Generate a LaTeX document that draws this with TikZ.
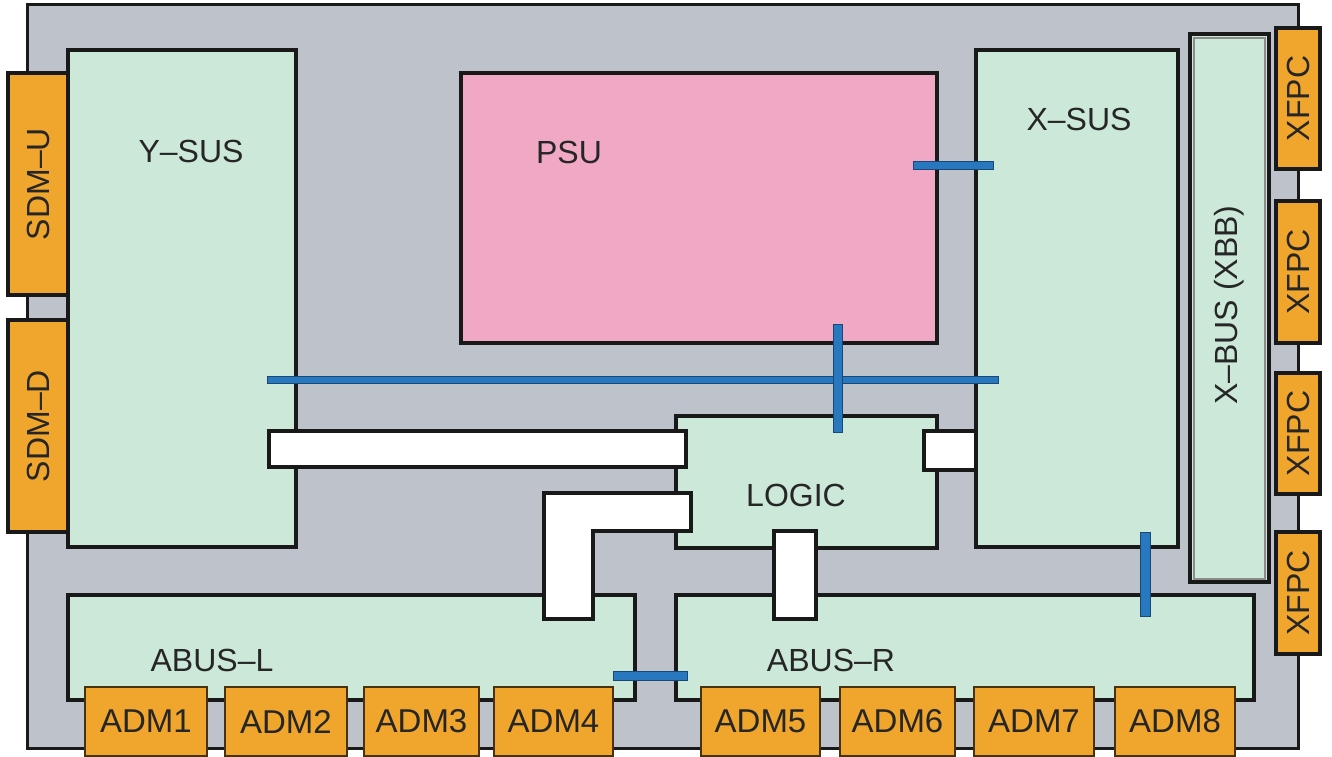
\documentclass[tikz,border=0pt]{standalone}
\usepackage{fontspec}
\setmainfont{Liberation Sans}
\usepackage{xcolor}

\definecolor{boardgray}{HTML}{BEC2CB}
\definecolor{cardgreen}{HTML}{CBE8D8}
\definecolor{psupink}{HTML}{F0A8C5}
\definecolor{plugorange}{HTML}{F0A52D}
\definecolor{busblue}{HTML}{2878C0}

\begin{document}
\begin{tikzpicture}[x=0.5pt, y=-0.5pt,
        wh/.style 2 args={minimum width=(#1)*0.5pt, minimum height=(#2)*0.5pt},
        board/.style={rectangle, draw=black!90, line width=1.5pt, fill=boardgray, inner sep=0pt, outer sep=0pt},
        card/.style={rectangle, draw=black!90, line width=2pt, fill=cardgreen, inner sep=0pt, outer sep=0pt},
        plug/.style={rectangle, draw=black!90, line width=2pt, fill=plugorange, inner sep=0pt, outer sep=0pt},
        adm/.style={rectangle, draw=black!70!plugorange, line width=0.6pt, fill=plugorange, inner sep=0pt, outer sep=0pt, font=\fontsize{16.5}{19}\selectfont, text=black!85},
        link/.style={draw=black!90, line width=2pt, fill=white},
        bus/.style={draw=busblue!60!black, line width=0.4pt, fill=busblue},
        lbl/.style={font=\fontsize{16}{19}\selectfont, text=black!85}
    ]
        \useasboundingbox (0,0) rectangle (1332,756);

        % Board
        \node[board, wh={1271}{744}, anchor=north west] (board) at (27,4) {};

        % Cards
        \node[card, wh={228}{497}, anchor=north west] (ysus) at (68,50) {};
        \node[card, fill=psupink, wh={476}{270}, anchor=north west] (psu) at (461,73) {};
        \node[card, wh={202}{497}, anchor=north west] (xsus) at (976,50) {};
        \node[card, wh={79}{548}, anchor=north west] (xbus) at (1190,34) {};
        \draw[draw=black!45, line width=0.6pt] ([shift={(4,4)}]xbus.north west) rectangle ([shift={(-4,-3)}]xbus.south east);
        \node[card, wh={261}{132}, anchor=north west] (logic) at (676,416) {};
        \node[card, wh={567}{105}, anchor=north west] (abusl) at (68,595) {};
        \node[card, wh={578}{105}, anchor=north west] (abusr) at (676,595) {};

        % White links
        \draw[link] ([shift={(-27,-116)}]ysus.south east) rectangle ([shift={(10,-15)}]logic.west);
        \draw[link] ([shift={(-13,15)}]logic.north east) rectangle ([shift={(0,-77)}]xsus.south west);
        \coordinate (la) at ([shift={(-91,24)}]abusl.north east);
        \coordinate (lb) at ([shift={(15,77)}]logic.north west);
        \draw[link] (la) |- (lb) -- ++(0,38) -| ([shift={(49,0)}]la) -- cycle;
        \draw[link] ([shift={(-32.5,-17)}]logic.south) rectangle ([shift={(140,24)}]abusr.north west);

        % Blue buses
        \draw[bus] ([shift={(-24,88)}]psu.north east) rectangle ([shift={(17,119)}]xsus.north west);
        \draw[bus] ([shift={(-29,326)}]ysus.north east) rectangle ([shift={(22,333)}]xsus.north west);
        \draw[bus] ([shift={(134,-19)}]psu.south) rectangle ([shift={(35.5,16)}]logic.north);
        \draw[bus] ([shift={(-38,-15)}]xsus.south east) rectangle ([shift={(-104,21)}]abusr.north east);
        \draw[bus] ([shift={(-22,-29)}]abusl.south east) rectangle ([shift={(11,-20)}]abusr.south west);

        % Connectors
        \node[plug, wh={60}{222}, anchor=north west] (sdmu) at (8,73) {};
        \node[plug, wh={60}{212}, anchor=north west] (sdmd) at (8,320) {};
        \node[lbl, rotate=90] (sdmulbl) at (sdmu) {SDM–U};
        \node[lbl, rotate=90] (sdmdlbl) at (sdmd) {SDM–D};
        \foreach \i/\ya/\yb in {1/28/169, 2/201/343, 3/373/494, 4/532/654} {
            \node[plug, wh={44}{\yb-\ya}, anchor=north west] (xfpc\i) at (1276,\ya) {};
            \node[lbl, rotate=90] (xfpclbl\i) at (xfpc\i) {XFPC};
        }
        \foreach \i/\xa/\xb in {1/85/207, 2/225/347, 3/364/479, 4/494/613, 5/701/820, 6/840/955, 7/974/1094, 8/1115/1235} {
            \node[adm, wh={\xb-\xa}{69}, anchor=north west] (adm\i) at (\xa,687) {ADM\i};
        }

        % Labels
        \node[lbl] (ysuslbl) at (191,151) {Y–SUS};
        \node[lbl] (psulbl) at (569,152) {PSU};
        \node[lbl] (xsuslbl) at (1079,119) {X–SUS};
        \node[lbl, rotate=90] (xbuslbl) at (1229,305) {X–BUS (XBB)};
        \node[lbl] (logiclbl) at (796,495) {LOGIC};
        \node[lbl] (abusllbl) at (212,660) {ABUS–L};
        \node[lbl] (abusrlbl) at (831,660) {ABUS–R};
    \end{tikzpicture}
\end{document}
